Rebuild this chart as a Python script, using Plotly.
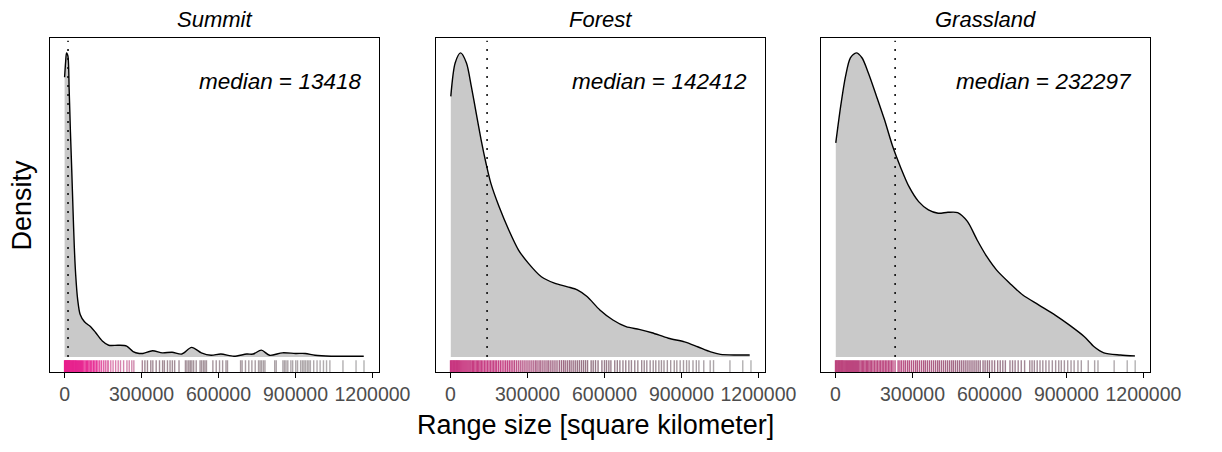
import plotly.graph_objects as go

# ---------------- data ----------------
panels = ["Summit", "Forest", "Grassland"]
medians = [13418, 142412, 232297]

# kernel density curves (x in thousand km², relative density, peak = 1)
summit_x_k = [0, 4, 7.6, 12.9, 17.8, 22.8, 28.1, 33.0, 38.0, 43.3, 50.9, 60.8, 77.5, 102.5,
              121.5, 147, 172, 210, 242, 267, 291, 305, 343, 381, 419, 457, 495, 533, 571,
              609, 660, 710, 735, 767, 799, 849, 900, 938, 976, 1039, 1166]
summit_dens = [0.92, 0.97, 1.00, 0.99, 0.88, 0.74, 0.61, 0.48, 0.36, 0.27, 0.19, 0.14, 0.116,
               0.099, 0.08, 0.053, 0.039, 0.039, 0.036, 0.018, 0.012, 0.012, 0.021, 0.014,
               0.016, 0.010, 0.032, 0.014, 0.006, 0.010, 0.003, 0.010, 0.010, 0.023, 0.006,
               0.014, 0.012, 0.012, 0.006, 0.003, 0.003]

forest_x_k = [1, 18, 39, 62, 81, 100, 119, 138, 157, 189, 227, 265, 303, 354, 405, 456, 494,
              532, 582, 633, 684, 735, 785, 849, 912, 963, 1014, 1052, 1115, 1166]
forest_dens = [0.857, 0.967, 1.0, 0.967, 0.890, 0.802, 0.715, 0.638, 0.572, 0.495, 0.418,
               0.352, 0.309, 0.264, 0.243, 0.231, 0.221, 0.199, 0.155, 0.122, 0.100, 0.091,
               0.080, 0.062, 0.050, 0.034, 0.017, 0.009, 0.007, 0.007]

grass_x_k = [1, 20, 39, 58, 81, 103, 128, 160, 191, 223, 255, 286, 324, 362, 400, 438, 476,
             514, 552, 590, 628, 679, 730, 793, 856, 912, 970, 1008, 1046, 1110, 1167]
grass_dens = [0.704, 0.824, 0.923, 0.984, 1.0, 0.984, 0.934, 0.857, 0.780, 0.692, 0.621,
              0.561, 0.511, 0.484, 0.473, 0.476, 0.475, 0.446, 0.385, 0.330, 0.286, 0.243,
              0.204, 0.171, 0.138, 0.105, 0.067, 0.034, 0.014, 0.007, 0.004]

# individual range sizes (rug), thousand km²
summit_rug_k = [0, 2, 4, 6, 8, 10, 12, 14, 16, 18, 20, 22, 25, 28, 31, 34, 37, 40, 43, 46, 50,
                54, 58, 62, 66, 70, 75, 80, 85, 90, 95, 100, 106, 112, 118, 124, 130, 137, 144,
                152, 159, 166, 171, 180, 189, 199, 209, 218, 230, 243, 252, 262, 270, 303, 313,
                323, 336, 344, 357, 370, 382, 389, 401, 411, 420, 429, 446, 471, 477, 484, 490,
                496, 503, 513, 528, 534, 541, 547, 553, 578, 591, 604, 616, 629, 635, 686, 692,
                705, 718, 730, 743, 756, 762, 768, 775, 781, 819, 825, 851, 857, 863, 870, 882,
                889, 901, 908, 920, 927, 933, 939, 946, 952, 958, 971, 984, 996, 1009, 1021,
                1034, 1085, 1136, 1167]
forest_rug_k = [0, 3, 6, 9, 12, 15, 18, 21, 24, 27, 30, 33, 36, 40, 44, 48, 52, 56, 60, 64, 68,
                72, 76, 80, 85, 90, 95, 100, 105, 110, 115, 120, 126, 132, 138, 144, 150, 156,
                162, 168, 174, 180, 187, 194, 201, 208, 215, 222, 229, 236, 243, 250, 258, 266,
                274, 282, 290, 298, 306, 314, 322, 330, 337, 345, 352, 360, 368, 376, 383, 391,
                399, 407, 415, 424, 432, 440, 447, 455, 463, 470, 478, 486, 494, 502, 510, 518,
                526, 534, 548, 556, 565, 575, 590, 600, 608, 617, 625, 640, 650, 660, 672, 683,
                695, 705, 718, 730, 745, 755, 765, 778, 790, 800, 812, 822, 832, 845, 858, 872,
                882, 895, 908, 920, 930, 945, 958, 968, 987, 1012, 1025, 1089, 1139, 1171]
grass_rug_k = [0, 3, 6, 9, 12, 15, 18, 21, 24, 27, 30, 34, 38, 42, 46, 50, 54, 58, 62, 66, 70,
               74, 78, 82, 86, 90, 95, 100, 105, 110, 115, 120, 125, 130, 135, 140, 146, 152,
               158, 164, 170, 176, 182, 188, 194, 200, 206, 212, 218, 224, 232, 244, 251, 258,
               266, 273, 281, 288, 296, 304, 312, 319, 327, 335, 343, 350, 358, 366, 374, 382,
               390, 398, 405, 413, 421, 429, 437, 445, 453, 460, 468, 476, 484, 492, 500, 508,
               516, 524, 532, 540, 548, 556, 564, 575, 583, 592, 600, 610, 620, 632, 642, 652,
               662, 680, 690, 700, 712, 724, 737, 757, 766, 775, 786, 797, 808, 820, 832, 845,
               858, 870, 880, 892, 905, 918, 930, 945, 958, 985, 1010, 1023, 1086, 1137, 1168]

tick_vals = [0, 300000, 600000, 900000, 1200000]
tick_text = ["0", "300000", "600000", "900000", "1200000"]

curves_x = [summit_x_k, forest_x_k, grass_x_k]
curves_y = [summit_dens, forest_dens, grass_dens]
rugs = [summit_rug_k, forest_rug_k, grass_rug_k]

rug_scales = [
    [[0, 'rgba(232,30,140,1)'], [0.10, 'rgba(230,40,145,0.95)'], [0.14, 'rgba(215,90,155,0.8)'],
     [0.23, 'rgba(190,100,145,0.75)'], [0.26, 'rgba(120,85,100,0.7)'], [1, 'rgba(120,120,120,0.55)']],
    [[0, 'rgba(200,55,128,1)'], [0.18, 'rgba(195,60,128,0.95)'], [0.30, 'rgba(150,70,110,0.85)'],
     [0.45, 'rgba(115,75,95,0.75)'], [1, 'rgba(120,120,120,0.55)']],
    [[0, 'rgba(188,68,125,1)'], [0.20, 'rgba(185,68,125,0.95)'], [0.45, 'rgba(130,78,105,0.8)'],
     [1, 'rgba(120,120,120,0.55)']],
]

# ---------------- figure ----------------
W, H = 1222, 452
FONT = "Liberation Sans"
x_dom = [(51, 389), (447, 785), (842, 1180)]
y_top, y_bot = 38, 372

fig = go.Figure()
layout = dict(width=W, height=H, margin=dict(l=0, r=0, t=0, b=0),
              paper_bgcolor="white", plot_bgcolor="white", showlegend=False,
              font=dict(family=FONT, color="black"))
annotations = []

for i in range(3):
    sfx = "" if i == 0 else str(i + 1)
    xa, ya = "x" + sfx, "y" + sfx
    xs = [v * 1000 for v in curves_x[i]]
    fig.add_trace(go.Scatter(x=xs, y=curves_y[i], xaxis=xa, yaxis=ya, mode="lines",
                             line=dict(color="black", width=1.4, shape="spline", smoothing=0.8),
                             fill="tozeroy", fillcolor="#c9c9c9", hoverinfo="skip"))
    fig.add_trace(go.Scatter(x=[medians[i], medians[i]], y=[0, 1.04], xaxis=xa, yaxis=ya,
                             mode="lines", line=dict(color="black", width=1.5, dash="2px,7px"),
                             hoverinfo="skip"))
    rx = [v * 1000 for v in rugs[i]]
    fig.add_trace(go.Scatter(x=rx, y=[-0.033] * len(rx), xaxis=xa, yaxis=ya, mode="markers",
                             marker=dict(symbol="line-ns-open", size=10, color=rx,
                                         colorscale=rug_scales[i], cmin=0, cmax=1200000,
                                         line=dict(width=1.4)),
                             hoverinfo="skip"))
    d0, d1 = x_dom[i]
    layout["xaxis" + sfx] = dict(domain=[d0 / W, d1 / W], range=[-58000, 1226000],
                                 anchor=ya, showgrid=False, zeroline=False,
                                 showline=True, linecolor="black", linewidth=1, mirror=True,
                                 ticks="outside", ticklen=5, tickcolor="black", tickwidth=1,
                                 tickvals=tick_vals, ticktext=tick_text,
                                 tickfont=dict(family=FONT, size=19.5, color="#4d4d4d"))
    layout["yaxis" + sfx] = dict(domain=[1 - y_bot / H, 1 - y_top / H], range=[-0.049, 1.049],
                                 anchor=xa, showgrid=False, zeroline=False,
                                 showline=True, linecolor="black", linewidth=1, mirror=True,
                                 showticklabels=False, ticks="")
    annotations.append(dict(text="<i>" + panels[i] + "</i>", x=(d0 + d1) / 2 / W, y=1 - 20 / H,
                            xref="paper", yref="paper", showarrow=False, xanchor="center",
                            yanchor="middle", font=dict(family=FONT, size=22, color="black")))
    annotations.append(dict(text="<i>median</i> = <i>%d</i>" % medians[i],
                            x=(d1 - 16) / W, y=1 - 82 / H, xref="paper", yref="paper",
                            showarrow=False, xanchor="right", yanchor="middle",
                            font=dict(family=FONT, size=22.5, color="black")))

annotations.append(dict(text="Density", x=23 / W, y=1 - 205 / H, xref="paper", yref="paper",
                        showarrow=False, textangle=-90, xanchor="center", yanchor="middle",
                        font=dict(family=FONT, size=27, color="black")))
annotations.append(dict(text="Range size [square kilometer]", x=611 / W, y=1 - 425 / H,
                        xref="paper", yref="paper", showarrow=False, xanchor="center",
                        yanchor="middle", font=dict(family=FONT, size=27, color="black")))
layout["annotations"] = annotations
fig.update_layout(**layout)
fig.write_html("out.html")
